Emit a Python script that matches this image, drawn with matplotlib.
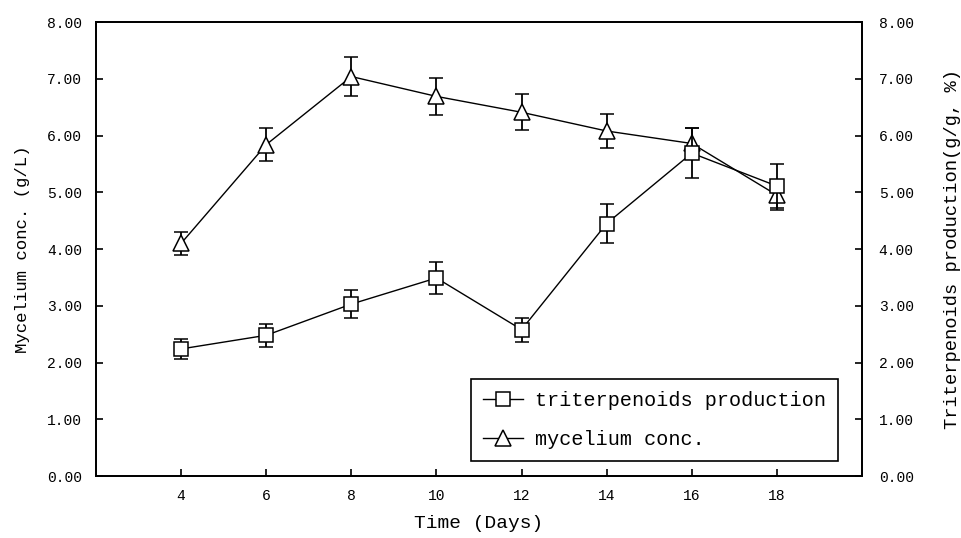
import matplotlib
matplotlib.use("Agg")
import matplotlib.pyplot as plt
from matplotlib.lines import Line2D

# culture time (days)
days = [4, 6, 8, 10, 12, 14, 16, 18]

# mycelium concentration (g/L) and its error
mycelium = [4.10, 5.84, 7.04, 6.69, 6.41, 6.08, 5.86, 4.95]
mycelium_err = [0.20, 0.29, 0.34, 0.33, 0.32, 0.30, 0.28, 0.26]

# triterpenoids production (g/g, %) and its error
triterp = [2.24, 2.48, 3.03, 3.49, 2.58, 4.45, 5.69, 5.11]
triterp_err = [0.17, 0.20, 0.24, 0.28, 0.21, 0.34, 0.44, 0.39]

yticks = [0, 1, 2, 3, 4, 5, 6, 7, 8]
xticks = [4, 6, 8, 10, 12, 14, 16, 18]

mono = "Liberation Mono"
plt.rcParams["font.family"] = mono

fig = plt.figure(figsize=(9.61, 5.38), dpi=100)
ax = fig.add_axes([0.0999, 0.1152, 0.7971, 0.8438])
ax2 = ax.twinx()

style = dict(color="black", lw=1.0, mfc="white", mec="black", mew=1.1,
             ecolor="black", elinewidth=1.3, capsize=5, capthick=1.3)

ax2.errorbar(days, triterp, yerr=triterp_err, marker="s", ms=10, **style)
ax.errorbar(days, mycelium, yerr=mycelium_err, marker="^", ms=11, **style)

for a in (ax, ax2):
    a.set_ylim(0, 8)
    a.set_yticks(yticks)
    a.set_yticklabels(["%.2f" % v for v in yticks], fontsize=10.5)
    a.tick_params(direction="in", length=5, width=1.2, pad=12)
    for s in a.spines.values():
        s.set_linewidth(1.3)
ax.tick_params(axis="y", pad=10)

ax.set_xlim(2, 20)
ax.set_xticks(xticks)
ax.set_xticklabels([str(v) for v in xticks], fontsize=10.5)
ax.tick_params(axis="x", direction="in", length=5, pad=9)

ax.set_xlabel("Time (Days)", fontsize=14, labelpad=9)
ax.set_ylabel("Mycelium conc. (g/L)", fontsize=12.5, labelpad=12)
ax2.set_ylabel("Triterpenoids production(g/g, %)", fontsize=13.5, labelpad=22)

h1 = Line2D([], [], color="black", lw=1.0, marker="s", ms=10,
            mfc="white", mec="black", mew=1.1)
h2 = Line2D([], [], color="black", lw=1.0, marker="^", ms=11,
            mfc="white", mec="black", mew=1.1)
leg = ax.legend([h1, h2], ["triterpenoids production", "mycelium conc."],
                loc="lower right", bbox_to_anchor=(0.969, 0.033),
                borderaxespad=0, fontsize=14.5, handlelength=2.0,
                handletextpad=0.6, labelspacing=1.0, borderpad=0.6,
                fancybox=False, framealpha=1, edgecolor="black")
leg.get_frame().set_linewidth(1.2)
leg.set_zorder(10)

fig.savefig("out.png", dpi=100)
